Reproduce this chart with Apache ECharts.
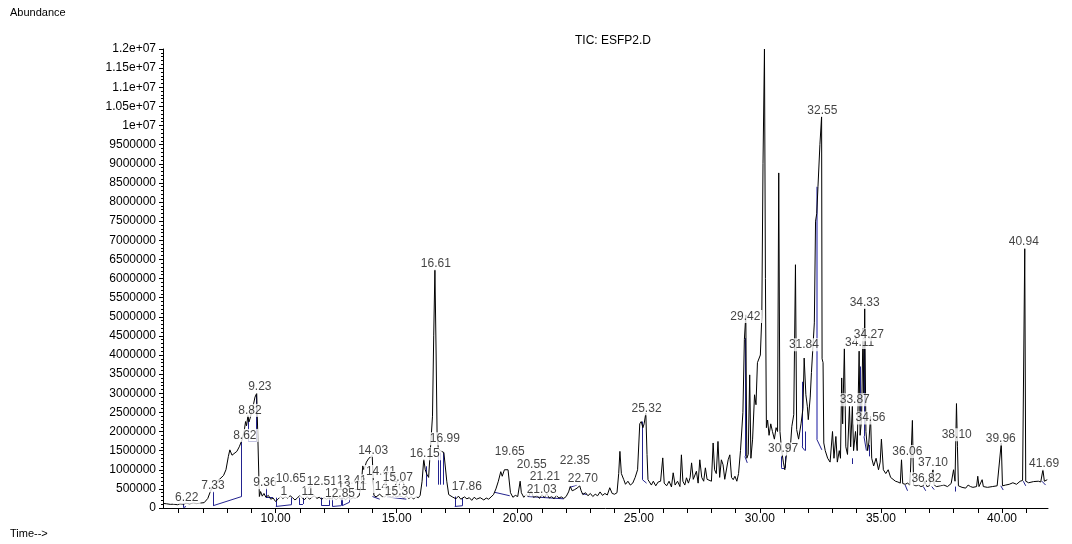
<!DOCTYPE html>
<html>
<head>
<meta charset="utf-8">
<title>TIC: ESFP2.D</title>
<script src="https://cdn.jsdelivr.net/npm/echarts@6/dist/echarts.min.js"></script>
<style>
  html, body { margin: 0; padding: 0; background: #fff; }
  #chart { width: 1072px; height: 544px; }
</style>
</head>
<body>
<div id="chart"></div>
<script>
// TIC trace: [retention time (min), abundance (x1000)]
var ticTrace = [
  [5.35,120],[5.5,110],[5.65,95],[5.8,100],[5.95,85],[6.05,110],[6.2,100],[6.3,125],[6.45,110],[6.6,130],
  [6.75,115],[6.9,130],[7.05,140],[7.2,250],[7.3,420],[7.4,560],[7.55,680],[7.7,760],[7.85,850],[7.95,1000],
  [8.05,1350],[8.11,1520],[8.2,1380],[8.28,1360],[8.4,1480],[8.5,1600],[8.62,1790],[8.7,2000],[8.76,2260],[8.8,2150],
  [8.86,2420],[8.9,2250],[8.95,2350],[9.05,2600],[9.15,2900],[9.22,3000],[9.28,3000],[9.33,300],[9.38,430],[9.45,310],
  [9.52,380],[9.6,280],[9.7,330],[9.8,230],[9.9,260],[10.0,170],[10.1,230],[10.2,300],[10.3,250],[10.4,290],
  [10.5,260],[10.6,320],[10.7,270],[10.8,210],[10.9,260],[11.0,330],[11.1,260],[11.2,220],[11.3,300],[11.4,230],
  [11.5,280],[11.6,320],[11.7,250],[11.8,280],[11.9,230],[12.0,270],[12.1,230],[12.2,260],[12.3,240],[12.4,280],
  [12.5,210],[12.6,280],[12.7,230],[12.8,260],[12.9,220],[13.0,280],[13.1,230],[13.2,270],[13.3,250],[13.45,320],
  [13.55,700],[13.6,1100],[13.65,1000],[13.75,1200],[13.85,1300],[13.92,1250],[13.99,1370],[14.03,1350],[14.06,330],[14.15,290],
  [14.3,360],[14.4,300],[14.5,290],[14.6,340],[14.7,300],[14.8,280],[14.9,330],[15.0,290],[15.1,320],[15.2,300],
  [15.3,260],[15.4,310],[15.5,250],[15.6,290],[15.7,240],[15.8,290],[15.9,270],[15.97,330],[16.05,700],[16.12,1280],
  [16.18,1000],[16.25,880],[16.32,800],[16.4,850],[16.48,2400],[16.53,4500],[16.58,6230],[16.63,4000],[16.67,1900],[16.72,1560],
  [16.8,1500],[16.88,1460],[16.95,1450],[17.02,1500],[17.07,700],[17.15,350],[17.3,290],[17.45,240],[17.55,310],[17.65,230],
  [17.8,290],[17.9,240],[18.0,270],[18.1,200],[18.2,280],[18.3,230],[18.45,270],[18.6,210],[18.7,260],[18.8,230],
  [18.9,290],[19.0,350],[19.1,500],[19.2,700],[19.3,950],[19.36,830],[19.45,1000],[19.52,1050],[19.6,1000],[19.66,1050],
  [19.7,400],[19.8,280],[19.9,330],[20.0,300],[20.05,250],[20.1,700],[20.15,400],[20.25,280],[20.35,350],[20.45,300],
  [20.55,450],[20.65,280],[20.8,320],[20.9,250],[21.0,350],[21.1,270],[21.2,380],[21.3,260],[21.4,300],[21.5,240],
  [21.6,330],[21.7,260],[21.8,290],[21.9,250],[22.0,300],[22.1,420],[22.17,560],[22.25,450],[22.35,480],[22.45,520],
  [22.56,580],[22.62,450],[22.69,350],[22.8,400],[22.9,320],[23.0,380],[23.1,300],[23.2,360],[23.3,320],[23.4,420],
  [23.5,330],[23.6,380],[23.7,340],[23.8,530],[23.9,380],[24.0,360],[24.1,400],[24.17,900],[24.22,1480],[24.28,900],
  [24.38,740],[24.45,620],[24.55,700],[24.65,600],[24.75,650],[24.85,800],[24.95,1000],[25.04,2200],[25.1,2260],[25.17,2100],
  [25.22,2200],[25.29,2480],[25.34,1400],[25.38,740],[25.45,790],[25.52,600],[25.6,700],[25.7,580],[25.8,680],[25.9,700],
  [25.99,1310],[26.05,650],[26.15,580],[26.25,700],[26.35,550],[26.42,920],[26.5,600],[26.6,700],[26.7,560],[26.76,1390],
  [26.82,700],[26.9,600],[26.97,790],[27.05,650],[27.12,800],[27.18,1180],[27.25,750],[27.32,700],[27.38,960],[27.45,650],
  [27.52,1260],[27.6,800],[27.68,700],[27.75,1050],[27.82,750],[27.9,800],[28.0,700],[28.07,1700],[28.13,1000],[28.2,900],
  [28.27,1740],[28.34,800],[28.41,1260],[28.48,1130],[28.55,750],[28.62,700],[28.69,1260],[28.76,1390],[28.83,800],[28.9,740],
  [28.97,830],[29.05,700],[29.12,900],[29.2,1500],[29.3,2500],[29.36,4400],[29.42,5050],[29.46,1300],[29.52,1400],[29.58,3480],
  [29.63,1300],[29.7,1800],[29.78,2960],[29.84,2700],[29.9,3800],[29.96,3830],[30.02,4000],[30.08,5000],[30.13,9000],[30.19,12000],
  [30.23,6000],[30.27,2100],[30.32,2300],[30.38,1900],[30.45,2200],[30.52,2000],[30.6,1800],[30.67,2100],[30.73,2000],[30.78,8760],
  [30.83,2000],[30.9,1500],[30.97,1200],[31.03,1000],[31.1,1400],[31.18,1700],[31.25,1500],[31.32,2130],[31.4,2440],[31.47,6360],
  [31.52,2050],[31.6,1800],[31.7,2200],[31.78,2600],[31.83,3920],[31.9,2960],[31.96,2660],[32.0,2310],[32.08,2900],[32.13,3540],
  [32.2,4300],[32.25,4840],[32.3,7500],[32.35,7700],[32.4,8400],[32.48,9500],[32.55,10240],[32.57,3900],[32.61,3800],[32.64,1700],
  [32.7,1500],[32.8,1300],[32.9,1200],[33.0,2000],[33.06,1300],[33.14,1870],[33.2,1200],[33.28,1500],[33.33,1300],[33.38,3400],
  [33.42,2200],[33.49,4180],[33.55,1600],[33.62,1400],[33.7,2660],[33.75,1600],[33.82,2660],[33.87,1500],[33.95,2000],[34.02,1500],
  [34.1,4100],[34.14,1900],[34.2,2300],[34.26,4700],[34.29,3000],[34.33,5230],[34.38,2000],[34.45,1500],[34.5,1700],[34.57,2400],
  [34.62,1300],[34.7,1100],[34.8,1300],[34.9,1000],[34.97,1200],[35.02,1800],[35.06,1790],[35.1,1000],[35.2,900],[35.3,1000],
  [35.4,800],[35.5,750],[35.6,700],[35.7,680],[35.8,650],[35.85,1260],[35.9,640],[36.0,620],[36.1,650],[36.2,600],
  [36.3,2290],[36.35,600],[36.45,580],[36.55,600],[36.65,560],[36.75,580],[36.81,700],[36.9,560],[37.0,580],[37.08,620],
  [37.15,1000],[37.2,600],[37.3,560],[37.45,580],[37.6,600],[37.75,560],[37.9,640],[38.0,1000],[38.06,700],[38.12,2730],
  [38.16,1600],[38.2,580],[38.35,540],[38.5,520],[38.6,600],[38.7,560],[38.8,540],[38.95,560],[39.0,830],[39.05,560],
  [39.18,740],[39.23,560],[39.4,540],[39.6,560],[39.8,580],[39.97,1700],[40.02,580],[40.15,600],[40.3,620],[40.45,660],
  [40.6,620],[40.75,700],[40.85,720],[40.94,6780],[40.98,700],[41.1,660],[41.3,690],[41.5,700],[41.6,680],[41.69,1000],
  [41.75,700],[41.87,740]
];

// integration baselines / drop lines: [t1, a1, t2, a2] (abundance x1000)
var baselineSegs = [
  [6.2,120,6.2,10],[6.2,10,6.3,40],
  [7.42,434,7.42,60],[7.42,60,8.6,300],[8.6,300,8.6,1740],
  [8.87,2310,8.87,1740],[8.87,1740,9.22,1740],[9.22,1740,9.22,2960],
  [9.6,530,9.6,270],[9.6,270,9.89,270],
  [10.01,270,10.01,40],[10.01,40,10.66,86],[10.66,86,10.66,270],
  [10.97,270,10.97,105],[10.97,105,11.13,105],[11.13,105,11.13,270],
  [11.9,270,11.9,60],[11.9,60,12.22,60],[12.22,60,12.22,270],
  [12.35,270,12.35,40],[12.35,40,12.7,60],[12.7,60,12.7,270],
  [12.75,270,12.75,60],[12.75,60,13.05,150],[13.05,150,13.05,300],
  [14.0,300,14.3,230],[14.6,290,15.4,230],
  [16.23,1090,16.23,560],[16.71,1450,16.71,610],[16.81,1450,16.81,610],[16.92,1450,16.92,610],
  [17.4,300,17.4,40],[17.4,40,17.72,60],[17.72,60,17.72,260],
  [19.05,410,19.67,320],
  [20.4,300,21.9,240],[22.15,540,22.45,600],[22.65,380,22.85,350],
  [25.15,2260,25.15,740],[25.15,740,25.32,650],
  [29.38,4440,29.38,1350],[29.38,1350,29.48,1180],
  [30.89,1350,30.89,1050],[30.89,1050,31.03,1050],[31.03,1050,31.03,1350],
  [31.74,3300,31.74,1600],[31.74,1600,31.86,1500],[31.86,1500,31.86,2000],
  [32.35,1800,32.56,1520],
  [33.83,1300,33.83,1150],[34.15,3700,34.15,2300],[34.3,4840,34.3,1870],[34.3,1870,34.4,1500],[34.52,1650,34.52,1350],
  [36.0,600,36.1,450],[36.75,560,36.85,450],[37.1,560,37.2,480],
  [38.08,560,38.08,430],[39.95,580,40.05,470],[40.88,700,40.98,580],[41.65,700,41.8,600]
];
var shoulderSegs = [
  [32.35,8400,32.35,1800]
];

// peak labels: [time, abundance (x1000), text]
var peakLabels = [
  [6.33,277,'6.22'],[7.41,583,'7.33'],[8.73,1898,'8.62'],[8.94,2552,'8.82'],[9.35,3163,'9.23'],
  [9.56,661,'9.36'],[10.34,434,'1'],[10.63,758,'10.65'],[11.33,434,'11'],[11.91,688,'12.51'],
  [13.15,715,'13.41'],[13.15,556,'13.11'],[12.66,374,'12.85'],
  [14.03,1506,'14.03'],[14.35,957,'14.41'],[14.72,565,'14.70'],[15.05,800,'15.07'],[15.13,434,'15.30'],
  [16.16,1420,'16.15'],[16.99,1812,'16.99'],[16.62,6387,'16.61'],[17.9,565,'17.86'],
  [19.67,1480,'19.65'],[20.58,1132,'20.55'],[21.12,826,'21.21'],[20.99,478,'21.03'],[22.36,1237,'22.35'],[22.69,758,'22.70'],
  [25.32,2596,'25.32'],[29.4,5009,'29.42'],[30.96,1542,'30.97'],[31.82,4269,'31.84'],[32.58,10395,'32.55'],
  [33.92,2831,'33.87'],[34.57,2353,'34.56'],[34.12,4330,'34.11'],[34.5,4531,'34.27'],[34.33,5375,'34.33'],
  [36.09,1480,'36.06'],[36.88,766,'36.82'],[37.15,1176,'37.10'],[38.13,1916,'38.10'],[39.95,1804,'39.96'],
  [40.9,6962,'40.94'],[41.74,1150,'41.69']
];

var xLabelValues = [10, 15, 20, 25, 30, 35, 40];
var xTickValues = [6,7,8,9,10,11,12,13,14,15,16,17,18,19,20,21,22,23,24,25,26,27,28,29,30,31,32,33,34,35,36,37,38,39,40,41];

var FONT = 'Liberation Sans';

function segData(segs) {
  return segs.map(function (s) {
    return { coords: [[s[0], s[1] * 1000], [s[2], s[3] * 1000]] };
  });
}

function yLabel(v) {
  if (v >= 1e7) return (v / 1e7) + 'e+07';
  return String(v);
}

var chart = echarts.init(document.getElementById('chart'));
chart.setOption({
  animation: false,
  backgroundColor: '#fff',
  grid: { left: 163, right: 24, top: 49, bottom: 36 },
  xAxis: {
    type: 'value',
    min: 5.35,
    max: 41.9,
    axisLine: { lineStyle: { color: '#000', width: 1 } },
    axisTick: { customValues: xTickValues, length: 5, lineStyle: { color: '#000' } },
    axisLabel: {
      customValues: xLabelValues,
      formatter: function (v) { return v.toFixed(2); },
      color: '#000', fontFamily: FONT, fontSize: 12, margin: 5
    },
    splitLine: { show: false }
  },
  yAxis: {
    type: 'value',
    min: 0,
    max: 12000000,
    interval: 500000,
    axisLine: { show: true, lineStyle: { color: '#000', width: 1 } },
    axisTick: { show: true, length: 4, lineStyle: { color: '#000' } },
    minorTick: { show: true, splitNumber: 5, length: 2, lineStyle: { color: '#000' } },
    axisLabel: { formatter: yLabel, color: '#000', fontFamily: FONT, fontSize: 12, margin: 7 },
    splitLine: { show: false }
  },
  graphic: [
    { type: 'text', left: 10, top: 7, style: { text: 'Abundance', fill: '#000', font: '11px ' + FONT } },
    { type: 'text', left: 10, top: 528, style: { text: 'Time-->', fill: '#000', font: '11px ' + FONT } },
    { type: 'text', left: 575, top: 35, style: { text: 'TIC: ESFP2.D', fill: '#000', font: '12px ' + FONT } }
  ],
  series: [
    {
      type: 'lines',
      coordinateSystem: 'cartesian2d',
      polyline: false,
      silent: true,
      z: 2,
      lineStyle: { color: '#23238f', width: 1, opacity: 1 },
      data: segData(baselineSegs)
    },
    {
      type: 'lines',
      coordinateSystem: 'cartesian2d',
      polyline: false,
      silent: true,
      z: 2,
      lineStyle: { color: '#8a8ad0', width: 2, opacity: 1 },
      data: segData(shoulderSegs)
    },
    {
      type: 'line',
      name: 'TIC',
      showSymbol: false,
      symbol: 'none',
      z: 3,
      lineStyle: { color: '#000', width: 1 },
      data: ticTrace.map(function (p) { return [p[0], p[1] * 1000]; })
    },
    {
      type: 'scatter',
      symbolSize: 0,
      silent: true,
      z: 5,
      label: {
        show: true,
        position: 'inside',
        formatter: function (p) { return p.data[2]; },
        color: '#111',
        fontFamily: FONT,
        fontSize: 12,
        backgroundColor: '#fff',
        padding: [1, 2, 0, 2]
      },
      data: peakLabels.map(function (p) { return [p[0], p[1] * 1000, p[2]]; })
    }
  ]
});
</script>
</body>
</html>
